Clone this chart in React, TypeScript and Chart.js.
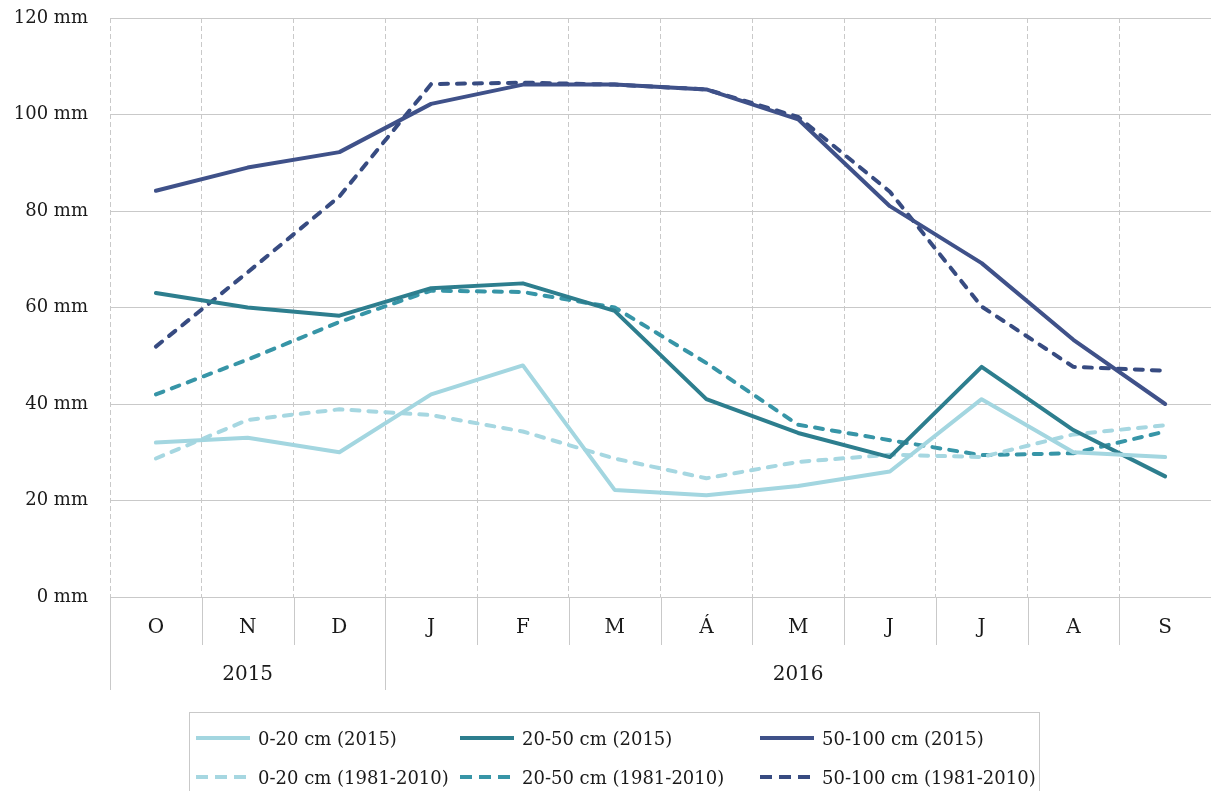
import React, { useEffect, useRef } from 'react';
import { Chart, registerables } from 'chart.js';

Chart.register(...registerables);

// ---- data ----
const categories = ['O', 'N', 'D', 'J', 'F', 'M', 'Á', 'M', 'J', 'J', 'A', 'S'];
const yearGroups = ['2015', '2016'];
const yearGroupSizes = [3, 9];
const yTicks = [0, 20, 40, 60, 80, 100, 120];

const s0_20_2015 = [32, 33, 30, 42, 48, 22.2, 21.1, 23, 26, 41, 30, 29];
const s20_50_2015 = [63, 60, 58.3, 64, 65, 59.3, 41, 34, 29, 47.7, 34.6, 25];
const s50_100_2015 = [84.2, 89, 92.2, 102.2, 106.2, 106.2, 105.2, 99, 81, 69.2, 53.3, 40];
const s0_20_norm = [28.7, 36.7, 38.9, 37.7, 34.3, 28.7, 24.6, 28, 29.5, 29, 33.7, 35.6];
const s20_50_norm = [42, 49.2, 57, 63.5, 63.2, 60, 48.5, 35.7, 32.5, 29.4, 29.8, 34.3];
const s50_100_norm = [51.9, 67.3, 83, 106.3, 106.6, 106.2, 105.2, 99.5, 84, 60.2, 47.7, 46.9];

const seriesLabels = [
  '0-20 cm (2015)',
  '20-50 cm (2015)',
  '50-100 cm (2015)',
  '0-20 cm (1981-2010)',
  '20-50 cm (1981-2010)',
  '50-100 cm (1981-2010)',
];
const seriesData = [s0_20_2015, s20_50_2015, s50_100_2015, s0_20_norm, s20_50_norm, s50_100_norm];
const seriesColors = ['#a3d6e0', '#2d7e8e', '#3f5189', '#a6d7e1', '#3795a7', '#374b81'];
const seriesDashed = [false, false, false, true, true, true];

const GRID = '#c9c9c9';
const TEXT = '#1a1a1a';
const FONT = '"DejaVu Serif", serif';

const groupPlugin = {
  id: 'groupAxis',
  afterDraw(chart: any) {
    const x = chart.scales.x;
    const ctx = chart.ctx;
    const top = x.top;
    const boundaries: number[] = [0];
    let acc = 0;
    yearGroupSizes.forEach((s) => {
      acc += s;
      boundaries.push(acc);
    });
    ctx.save();
    ctx.strokeStyle = GRID;
    ctx.lineWidth = 1;
    for (let i = 0; i <= categories.length; i++) {
      const px = Math.round(x.getPixelForValue(i - 0.5)) + 0.5;
      const bottom = boundaries.includes(i) ? top + 93 : top + 48;
      ctx.beginPath();
      ctx.moveTo(px, top);
      ctx.lineTo(px, bottom);
      ctx.stroke();
    }
    ctx.font = `20px ${FONT}`;
    ctx.fillStyle = TEXT;
    ctx.textAlign = 'center';
    ctx.textBaseline = 'middle';
    let start = 0;
    yearGroups.forEach((g, k) => {
      const end = start + yearGroupSizes[k];
      const cx = (x.getPixelForValue(start - 0.5) + x.getPixelForValue(end - 0.5)) / 2;
      ctx.fillText(g, cx, top + 78);
      start = end;
    });
    ctx.restore();
  },
};

const legendCols = [196, 460, 760];

export default function App() {
  const ref = useRef<HTMLCanvasElement>(null);

  useEffect(() => {
    const chart = new Chart(ref.current as HTMLCanvasElement, {
      type: 'line',
      data: {
        labels: categories,
        datasets: seriesData.map((d, i) => ({
          label: seriesLabels[i],
          data: d,
          borderColor: seriesColors[i],
          backgroundColor: seriesColors[i],
          borderWidth: 4,
          borderDash: seriesDashed[i] ? [8, 9] : [],
          borderCapStyle: 'round',
          borderJoinStyle: 'round',
          pointRadius: 0,
          tension: 0,
          fill: false,
        })) as any,
      },
      options: {
        animation: false,
        responsive: false,
        maintainAspectRatio: false,
        layout: { padding: { top: 18, right: 0, bottom: 101, left: 0 } },
        plugins: {
          legend: { display: false },
          tooltip: { enabled: false },
        },
        scales: {
          x: {
            type: 'category',
            offset: true,
            grid: {
              display: true,
              offset: true,
              color: GRID,
              lineWidth: 1,
              drawTicks: false,
            },
            border: { display: false, dash: [5, 3] },
            ticks: {
              padding: 19,
              color: TEXT,
              font: { family: FONT, size: 20 },
              maxRotation: 0,
              autoSkip: false,
            },
            afterFit: (scale: any) => {
              scale.height = 93;
              scale.paddingLeft = 0;
              scale.paddingRight = 0;
            },
          },
          y: {
            min: 0,
            max: 120,
            afterBuildTicks: (scale: any) => {
              scale.ticks = yTicks.map((v) => ({ value: v }));
            },
            grid: { color: GRID, lineWidth: 1, drawTicks: false },
            border: { display: false },
            ticks: {
              padding: 22,
              color: TEXT,
              font: { family: FONT, size: 18 },
              callback: (v: any) => `${v} mm`,
            },
            afterFit: (scale: any) => {
              scale.width = 110;
              scale.paddingTop = 0;
              scale.paddingBottom = 0;
            },
          },
        },
      },
      plugins: [groupPlugin],
    });
    return () => chart.destroy();
  }, []);

  return (
    <div
      style={{
        position: 'fixed',
        left: 0,
        top: 0,
        width: 1211,
        height: 791,
        overflow: 'hidden',
        background: '#ffffff',
      }}
    >
      <canvas ref={ref} width={1211} height={791} style={{ position: 'absolute', left: 0, top: 0 }} />
      <div
        style={{
          position: 'absolute',
          left: 189,
          top: 712,
          width: 851,
          height: 100,
          border: `1px solid ${GRID}`,
          boxSizing: 'border-box',
          fontFamily: FONT,
          fontSize: 18,
          color: TEXT,
        }}
      >
        {seriesLabels.map((lab, i) => {
          const col = i % 3;
          const row = Math.floor(i / 3);
          const left = legendCols[col] - 190;
          const cy = row === 0 ? 25 : 64;
          return (
            <div
              key={lab}
              style={{
                position: 'absolute',
                left,
                top: cy - 12,
                height: 24,
                display: 'flex',
                alignItems: 'center',
                whiteSpace: 'nowrap',
              }}
            >
              <svg width={54} height={8} style={{ marginRight: 8, display: 'block' }}>
                <line
                  x1={0}
                  y1={4}
                  x2={54}
                  y2={4}
                  stroke={seriesColors[i]}
                  strokeWidth={4}
                  strokeDasharray={seriesDashed[i] ? '12 7' : undefined}
                />
              </svg>
              <span>{lab}</span>
            </div>
          );
        })}
      </div>
    </div>
  );
}
